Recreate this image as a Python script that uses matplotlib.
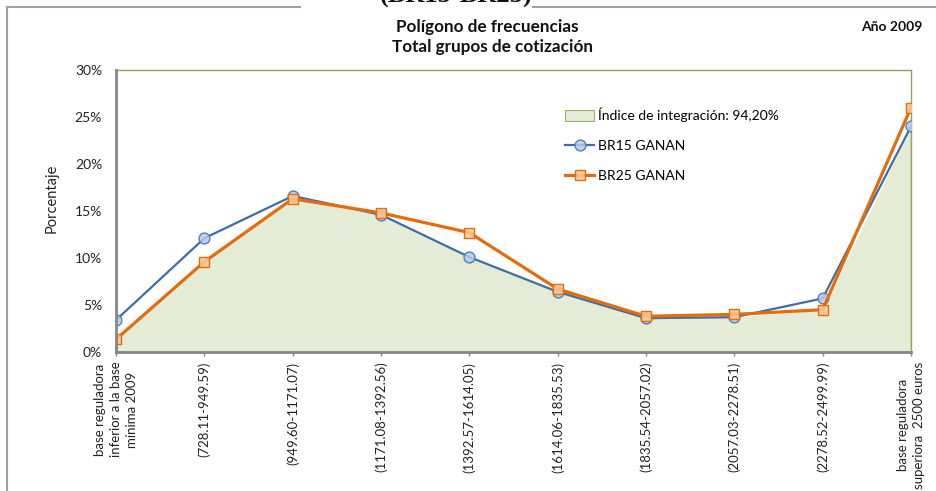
import matplotlib
matplotlib.use("Agg")
import matplotlib.pyplot as plt
import numpy as np
from matplotlib.lines import Line2D
from matplotlib.patches import Patch

plt.rcParams['font.family'] = ['Lato', 'DejaVu Sans']

categories = [
    "base reguladora\ninferior a la base\nmínima 2009",
    "(728.11-949.59)",
    "(949.60-1171.07)",
    "(1171.08-1392.56)",
    "(1392.57-1614.05)",
    "(1614.06-1835.53)",
    "(1835.54-2057.02)",
    "(2057.03-2278.51)",
    "(2278.52-2499.99)",
    "base reguladora\nsuperiora  2500 euros",
]
br15 = [3.4, 12.1, 16.6, 14.6, 10.1, 6.4, 3.6, 3.7, 5.7, 24.0]
br25 = [1.35, 9.6, 16.3, 14.8, 12.7, 6.7, 3.8, 4.0, 4.5, 26.0]
yticks = [0, 5, 10, 15, 20, 25, 30]
ytick_labels = ["0%", "5%", "10%", "15%", "20%", "25%", "30%"]

W, H = 936, 491
fig = plt.figure(figsize=(W / 100, H / 100), dpi=100)

def fx(px):
    return px / W

def fy(py):
    return 1 - py / H

ax = fig.add_axes([fx(116), fy(352), fx(911) - fx(116), fy(70) - fy(352)])
x = np.arange(len(categories))
overlap = np.minimum(br15, br25)

ax.fill_between(x, 0, overlap, color='#E4ECD5', lw=0, zorder=1)
ax.plot([x[-1], x[-1]], [0, overlap[-1]], color='#9BB068', lw=1, zorder=1.5)

ax.plot(x, br15, color='#3E6DA8', lw=1.6, marker='o', markersize=7.8,
        markerfacecolor=(0.72, 0.80, 0.90, 0.85), markeredgecolor='#4F81BD',
        markeredgewidth=1.0, zorder=3)
ax.plot(x, br25, color='#E46C0A', lw=2.3, marker='s', markersize=7.8,
        markerfacecolor=(0.98, 0.78, 0.58, 0.85), markeredgecolor='#E46C0A',
        markeredgewidth=1.0, zorder=4)

ax.set_xlim(x[0], x[-1])
ax.set_ylim(0, 30)
ax.set_yticks(yticks)
ax.set_yticklabels(ytick_labels, fontsize=10, color='#222222')
ax.set_xticks(x)
ax.set_xticklabels(categories, rotation=90, fontsize=9.5, ha='center', va='top',
                   multialignment='center', color='#222222', linespacing=1.35)
ax.tick_params(axis='y', length=0, pad=10)
ax.tick_params(axis='x', length=3, width=1, color='#868686', direction='out', pad=4)

for s in ['left', 'bottom']:
    ax.spines[s].set_color('#868686')
    ax.spines[s].set_linewidth(2)
for s in ['top', 'right']:
    ax.spines[s].set_color('#8EA45F')
    ax.spines[s].set_linewidth(1)
ax.spines['bottom'].set_zorder(5)
ax.spines['left'].set_zorder(5)

fig.text(fx(52), fy(198), "Porcentaje", rotation=90, ha='center', va='center',
         fontsize=10.5, color='#222222')

fig.text(fx(487), fy(27), "Polígono de frecuencias", ha='center', va='center',
         fontsize=12.3, fontweight='bold', color='#111111')
fig.text(fx(492), fy(47), "Total grupos de cotización", ha='center', va='center',
         fontsize=12.3, fontweight='bold', color='#111111')
fig.text(fx(892), fy(27), "Año 2009", ha='center', va='center',
         fontsize=10, fontweight='bold', color='#111111')

# outer frame (extends beyond image)
fig.add_artist(Line2D([fx(7), fx(7)], [fy(7), fy(500)], color='#A0A0A0', lw=1.5,
                      transform=fig.transFigure))
fig.add_artist(Line2D([fx(7), fx(300)], [fy(7), fy(7)], color='#A0A0A0', lw=1.5,
                      transform=fig.transFigure))
fig.add_artist(Line2D([fx(533), fx(940)], [fy(7), fy(7)], color='#A0A0A0', lw=1.5,
                      transform=fig.transFigure))
fig.text(fx(456), fy(3), "(BR15-BR25)", ha='center', va='baseline',
         fontsize=19, fontweight='bold', family=['Liberation Serif', 'DejaVu Serif'],
         color='#111111')

handles = [
    Patch(facecolor='#E4ECD5', edgecolor='#9BB068', lw=0.8),
    Line2D([], [], color='#3E6DA8', lw=1.6, marker='o', markersize=7.8,
           markerfacecolor=(0.72, 0.80, 0.90, 0.85), markeredgecolor='#4F81BD'),
    Line2D([], [], color='#E46C0A', lw=2.3, marker='s', markersize=7.8,
           markerfacecolor=(0.98, 0.78, 0.58, 0.85), markeredgecolor='#E46C0A'),
]
labels = ["Índice de integración: 94,20%", "BR15 GANAN", "BR25 GANAN"]
leg = fig.legend(handles, labels, loc='upper left',
                 bbox_to_anchor=(fx(558), fy(101)), frameon=False,
                 fontsize=10, handlelength=2.1, handleheight=0.8,
                 labelspacing=1.28, handletextpad=0.3, borderpad=0)

fig.savefig("out.png", dpi=100)
